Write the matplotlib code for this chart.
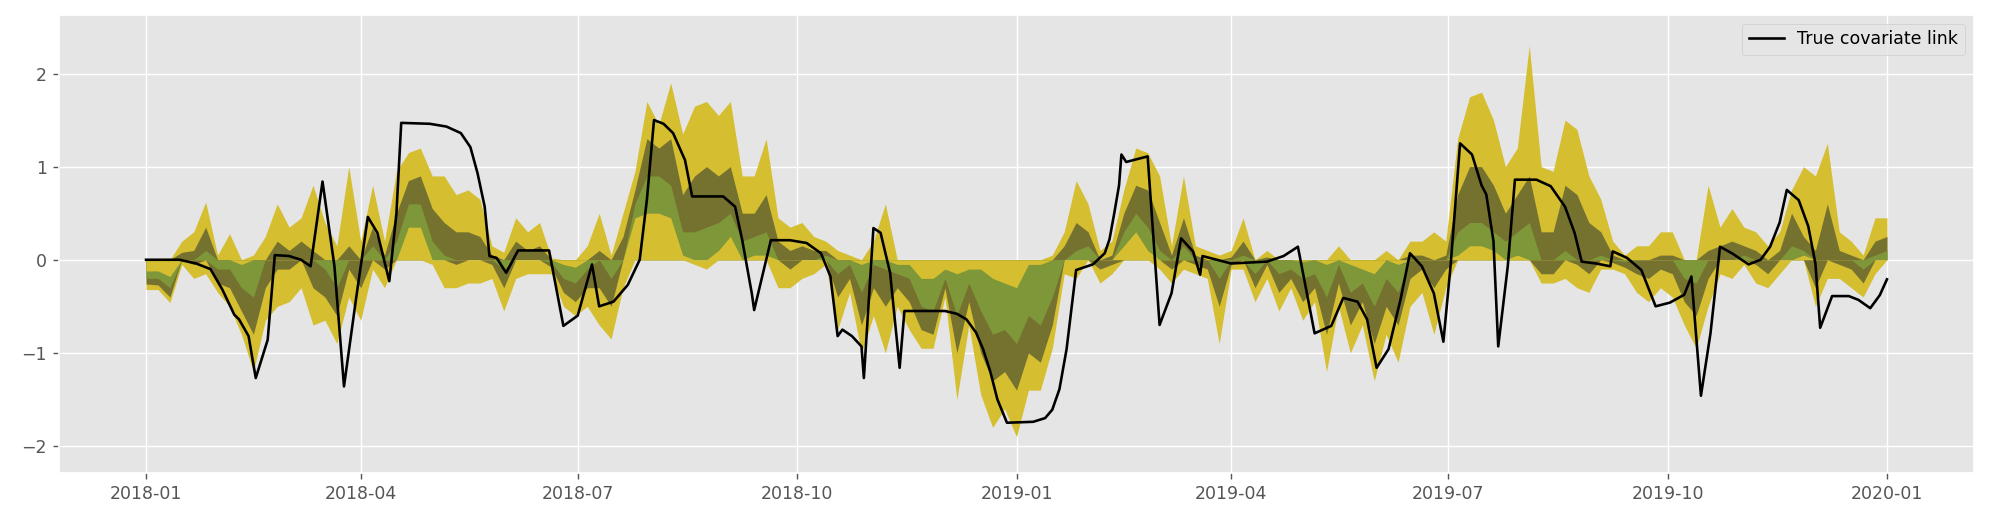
import numpy as np
import pandas as pd
import matplotlib

matplotlib.use("Agg")
import matplotlib.pyplot as plt
import matplotlib.dates as mdates

# posterior bands read every 5 days, 2018-01-01 .. 2020-01-01 (q1 < q2 < q3 < q4)
grid_dates = pd.date_range("2018-01-01", "2020-01-01", freq="5D")
q1 = [-0.32, -0.32, -0.46, -0.05, -0.20, -0.15, -0.35, -0.50, -0.80, -1.20,
      -0.65, -0.50, -0.45, -0.30, -0.70, -0.65, -0.90, -0.40, -0.65, -0.10,
      -0.30, 0.00, 0.35, 0.35, -0.05, -0.30, -0.30, -0.25, -0.25, -0.20,
      -0.55, -0.20, -0.15, -0.15, -0.15, -0.50, -0.60, -0.50, -0.70, -0.85,
      -0.30, 0.45, 0.50, 0.50, 0.45, 0.05, -0.05, -0.10, 0.10, 0.25,
      0.00, 0.05, 0.05, -0.30, -0.30, -0.20, -0.15, -0.05, -0.75, -0.35,
      -1.00, -0.60, -1.00, -0.50, -0.75, -0.95, -0.95, -0.40, -1.50, -0.70,
      -1.45, -1.80, -1.60, -1.90, -1.40, -1.40, -0.95, -0.15, -0.20, 0.00,
      -0.25, -0.15, 0.15, 0.30, 0.10, -0.10, -0.25, -0.10, -0.15, -0.20,
      -0.90, -0.10, -0.10, -0.45, -0.20, -0.55, -0.30, -0.65, -0.45, -1.20,
      -0.50, -1.00, -0.70, -1.30, -0.80, -1.10, -0.50, -0.35, -0.80, -0.30,
      0.05, 0.15, 0.15, 0.10, 0.00, 0.05, 0.00, -0.25, -0.25, -0.20,
      -0.30, -0.35, -0.10, -0.10, -0.15, -0.35, -0.45, -0.30, -0.40, -0.70,
      -0.95, -0.50, -0.15, -0.20, -0.05, -0.25, -0.30, -0.15, 0.00, 0.05,
      -0.50, -0.20, -0.20, -0.30, -0.40, -0.15, 0.00]
q2 = [-0.26, -0.27, -0.40, 0.00, -0.05, 0.10, -0.25, -0.30, -0.55, -0.80,
      -0.30, -0.10, -0.10, 0.00, -0.30, -0.40, -0.60, -0.10, -0.30, 0.15,
      -0.10, 0.20, 0.60, 0.60, 0.20, 0.05, -0.05, 0.00, 0.00, -0.05,
      -0.30, 0.00, 0.00, 0.00, -0.08, -0.35, -0.45, -0.30, -0.30, -0.50,
      0.00, 0.60, 0.90, 0.90, 0.80, 0.30, 0.30, 0.35, 0.40, 0.50,
      0.20, 0.25, 0.30, 0.00, -0.10, 0.00, 0.00, 0.05, -0.40, -0.20,
      -0.70, -0.30, -0.50, -0.30, -0.45, -0.75, -0.80, -0.30, -1.00, -0.45,
      -1.00, -1.30, -1.20, -1.40, -1.00, -1.10, -0.70, 0.00, 0.10, 0.15,
      -0.10, -0.05, 0.30, 0.50, 0.35, 0.10, -0.10, 0.15, -0.05, -0.10,
      -0.50, -0.05, 0.05, -0.30, -0.05, -0.35, -0.20, -0.45, -0.30, -0.80,
      -0.25, -0.70, -0.45, -0.90, -0.50, -0.70, -0.20, -0.10, -0.30, -0.10,
      0.30, 0.40, 0.40, 0.30, 0.20, 0.30, 0.40, -0.15, -0.15, 0.10,
      -0.05, -0.15, 0.05, -0.03, -0.08, -0.15, -0.20, -0.10, -0.15, -0.45,
      -0.60, -0.20, 0.00, 0.00, 0.05, -0.05, -0.15, 0.00, 0.15, 0.10,
      -0.30, 0.00, -0.05, -0.10, -0.25, 0.05, 0.10]
q3 = [-0.20, -0.20, -0.30, 0.08, 0.10, 0.35, -0.10, -0.10, -0.30, -0.40,
      0.00, 0.20, 0.10, 0.20, 0.10, -0.10, -0.30, 0.15, 0.00, 0.35,
      0.05, 0.50, 0.85, 0.90, 0.55, 0.40, 0.30, 0.30, 0.25, 0.05,
      -0.10, 0.20, 0.10, 0.15, -0.03, -0.20, -0.25, -0.10, 0.10, -0.20,
      0.25, 0.75, 1.30, 1.20, 1.30, 0.70, 0.90, 1.00, 0.90, 1.00,
      0.50, 0.50, 0.70, 0.20, 0.10, 0.15, 0.10, 0.10, -0.15, -0.05,
      -0.35, -0.05, -0.10, -0.15, -0.20, -0.50, -0.55, -0.20, -0.60, -0.25,
      -0.55, -0.80, -0.75, -0.90, -0.60, -0.70, -0.40, 0.15, 0.40, 0.30,
      0.00, 0.05, 0.50, 0.80, 0.75, 0.40, 0.05, 0.45, 0.05, 0.00,
      -0.20, 0.03, 0.20, -0.15, 0.03, -0.15, -0.10, -0.20, -0.15, -0.40,
      -0.05, -0.35, -0.25, -0.50, -0.20, -0.35, 0.05, 0.05, 0.00, 0.05,
      0.70, 1.00, 1.00, 0.80, 0.50, 0.70, 0.90, 0.30, 0.30, 0.80,
      0.70, 0.40, 0.30, 0.05, -0.02, 0.00, 0.00, 0.05, 0.05, -0.20,
      -0.25, 0.10, 0.15, 0.20, 0.15, 0.10, 0.00, 0.10, 0.50, 0.25,
      0.10, 0.60, 0.10, 0.05, -0.10, 0.20, 0.25]
q4 = [-0.12, -0.12, -0.18, 0.20, 0.30, 0.62, 0.05, 0.28, -0.05, 0.05,
      0.25, 0.60, 0.35, 0.45, 0.80, 0.40, 0.15, 1.00, 0.20, 0.80,
      0.20, 0.95, 1.15, 1.20, 0.90, 0.90, 0.70, 0.75, 0.65, 0.15,
      0.08, 0.45, 0.30, 0.40, 0.02, -0.05, -0.08, 0.15, 0.50, 0.05,
      0.50, 0.95, 1.70, 1.45, 1.90, 1.35, 1.65, 1.70, 1.55, 1.70,
      0.90, 0.90, 1.30, 0.45, 0.35, 0.40, 0.25, 0.20, 0.10, 0.05,
      -0.05, 0.20, 0.60, -0.05, -0.05, -0.20, -0.20, -0.10, -0.15, -0.10,
      -0.10, -0.20, -0.25, -0.30, -0.05, -0.05, 0.05, 0.30, 0.85, 0.60,
      0.10, 0.20, 0.75, 1.20, 1.15, 0.90, 0.15, 0.90, 0.15, 0.10,
      0.05, 0.10, 0.45, 0.00, 0.10, 0.00, 0.00, -0.02, 0.00, -0.05,
      0.15, -0.05, -0.10, -0.15, 0.10, -0.05, 0.20, 0.20, 0.30, 0.20,
      1.30, 1.75, 1.80, 1.50, 1.00, 1.20, 2.30, 1.00, 0.95, 1.50,
      1.40, 0.90, 0.65, 0.20, 0.05, 0.15, 0.15, 0.30, 0.30, 0.00,
      0.00, 0.80, 0.35, 0.55, 0.35, 0.30, 0.15, 0.30, 0.75, 1.00,
      0.90, 1.25, 0.30, 0.20, 0.05, 0.45, 0.45]

# true covariate link, read at irregular days after 2018-01-01
link_days = [0, 14, 21, 27, 32, 37, 39, 43, 46, 51, 54, 60, 65, 69, 74, 79, 83,
             88, 93, 97, 102, 105, 107, 119, 126, 132, 136, 139, 142, 144, 147,
             151, 156, 169, 175, 181, 187, 190, 196, 202, 207, 210, 213, 217,
             221, 226, 229, 242, 247, 250, 254, 255, 262, 270, 277, 283, 287,
             290, 292, 296, 300, 301, 305, 308, 312, 316, 318, 335, 340, 344,
             348, 351, 354, 357, 361, 372, 377, 380, 383, 386, 390, 397, 402,
             404, 406, 408, 409, 411, 420, 425, 430, 434, 439, 442, 443, 455,
             470, 477, 483, 490, 497, 502, 508, 512, 516, 521, 526, 530, 535,
             540, 544, 547, 551, 556, 560, 562, 565, 567, 571, 574, 583, 589,
             595, 599, 602, 608, 614, 615, 621, 627, 633, 639, 645, 648, 652,
             656, 660, 665, 672, 677, 681, 685, 688, 693, 697, 700, 702, 707,
             714, 718, 723, 727, 730]
link_values = [0.0, 0.0, -0.04, -0.1, -0.32, -0.59, -0.64, -0.82, -1.27, -0.86,
               0.05, 0.04, 0.0, -0.07, 0.84, -0.07, -1.36, -0.43, 0.46, 0.29,
               -0.23, 0.5, 1.47, 1.46, 1.43, 1.36, 1.21, 0.93, 0.57, 0.04, 0.02,
               -0.14, 0.1, 0.1, -0.71, -0.6, -0.05, -0.5, -0.45, -0.27, 0.0,
               0.64, 1.5, 1.46, 1.36, 1.07, 0.68, 0.68, 0.57, 0.21, -0.36,
               -0.54, 0.21, 0.21, 0.18, 0.07, -0.18, -0.82, -0.75, -0.82,
               -0.93, -1.27, 0.34, 0.29, -0.14, -1.16, -0.55, -0.55, -0.58,
               -0.64, -0.78, -0.96, -1.2, -1.5, -1.75, -1.74, -1.70, -1.61,
               -1.39, -0.96, -0.11, -0.05, 0.07, 0.22, 0.5, 0.8, 1.13, 1.05,
               1.11, -0.70, -0.36, 0.23, 0.09, -0.16, 0.04, -0.04, -0.02, 0.04,
               0.14, -0.79, -0.71, -0.41, -0.45, -0.64, -1.16, -0.96, -0.43,
               0.07, -0.07, -0.36, -0.88, -0.07, 1.25, 1.13, 0.8, 0.7, 0.2,
               -0.93, -0.07, 0.86, 0.86, 0.79, 0.57, 0.29, -0.02, -0.04, -0.07,
               0.09, 0.02, -0.11, -0.5, -0.46, -0.375, -0.18, -1.46, -0.79,
               0.14, 0.07, -0.05, 0.0, 0.14, 0.4, 0.75, 0.64, 0.36, -0.04,
               -0.73, -0.39, -0.39, -0.43, -0.52, -0.38, -0.21]

GOLD = "#d5be2f"
OLIVE = "#75712f"
GREEN = "#7e9739"

plt.style.use("ggplot")
fig, ax = plt.subplots(figsize=(16, 4.24), dpi=125)
fig.subplots_adjust(left=0.0295, right=0.987, top=0.972, bottom=0.1075)

bands = [np.asarray(q) for q in (q1, q2, q3, q4)]

# positive side: widest first, so inner bands sit on top
for q, color in zip(bands[::-1], [GOLD, OLIVE, GREEN, GOLD]):
    ax.fill_between(grid_dates, 0, np.clip(q, 0, None), color=color, lw=0)
# negative side
for q, color in zip(bands, [GOLD, OLIVE, GREEN, GOLD]):
    ax.fill_between(grid_dates, 0, np.clip(q, None, 0), color=color, lw=0)

link_dates = pd.Timestamp("2018-01-01") + pd.to_timedelta(link_days, unit="D")
ax.plot(link_dates, link_values, color="black", lw=1.5, label="True covariate link")

ax.set_xlim(pd.Timestamp("2018-01-01") - pd.Timedelta(days=36.5),
            pd.Timestamp("2020-01-01") + pd.Timedelta(days=36.5))
ax.set_ylim(-2.29, 2.63)
ax.xaxis.set_major_locator(mdates.MonthLocator(bymonth=[1, 4, 7, 10]))
ax.xaxis.set_major_formatter(mdates.DateFormatter("%Y-%m"))
ax.legend(loc="upper right")

fig.savefig("out.png")
